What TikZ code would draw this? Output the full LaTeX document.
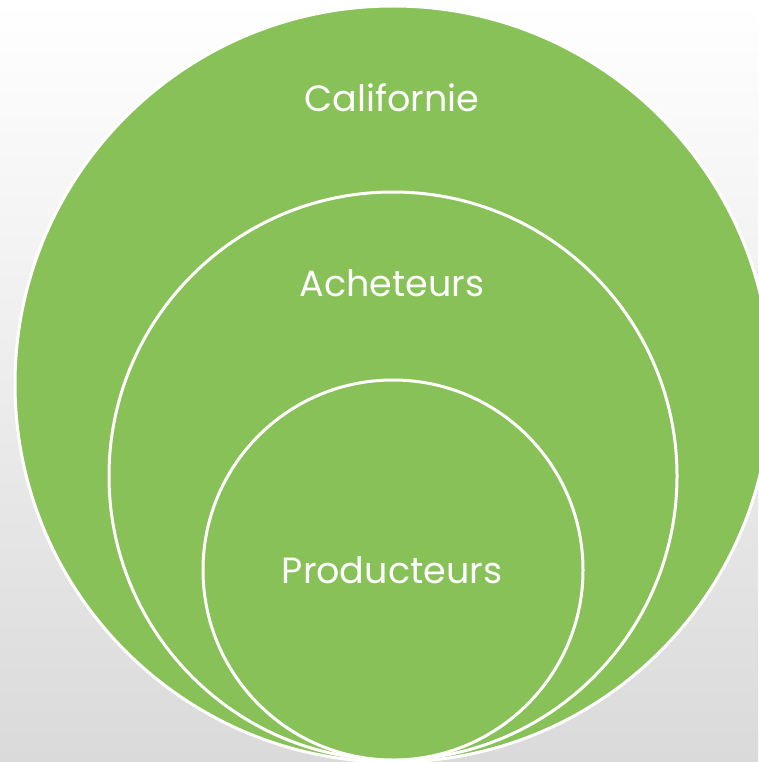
\documentclass[tikz,border=0pt]{standalone}
\usepackage{fontspec}
\setmainfont{Poppins}
\definecolor{leaf}{RGB}{135,193,87}
\definecolor{bgbot}{RGB}{218,218,218}
\begin{document}
\begin{tikzpicture}[x=1pt,y=-1pt,
  ring/.style={circle, draw=white, line width=3pt, fill=leaf, inner sep=0pt, outer sep=0pt},
  lbl/.style={text=white, font=\fontsize{36.5}{42}\selectfont, inner sep=0pt}]
\useasboundingbox (0,0) rectangle (758,762);
\shade[top color=white, bottom color=bgbot] (0,0) rectangle (758,762);
\node[ring, minimum size=756pt] (outer) at (393,384) {};
\node[ring, minimum size=568pt] (mid) at (393,476) {};
\node[ring, minimum size=380pt] (inner) at (393,570) {};
\node[lbl] (t1) at (392,98) {Californie};
\node[lbl] (t2) at (392,283) {Acheteurs};
\node[lbl] (t3) at (392,570) {Producteurs};
\end{tikzpicture}
\end{document}
